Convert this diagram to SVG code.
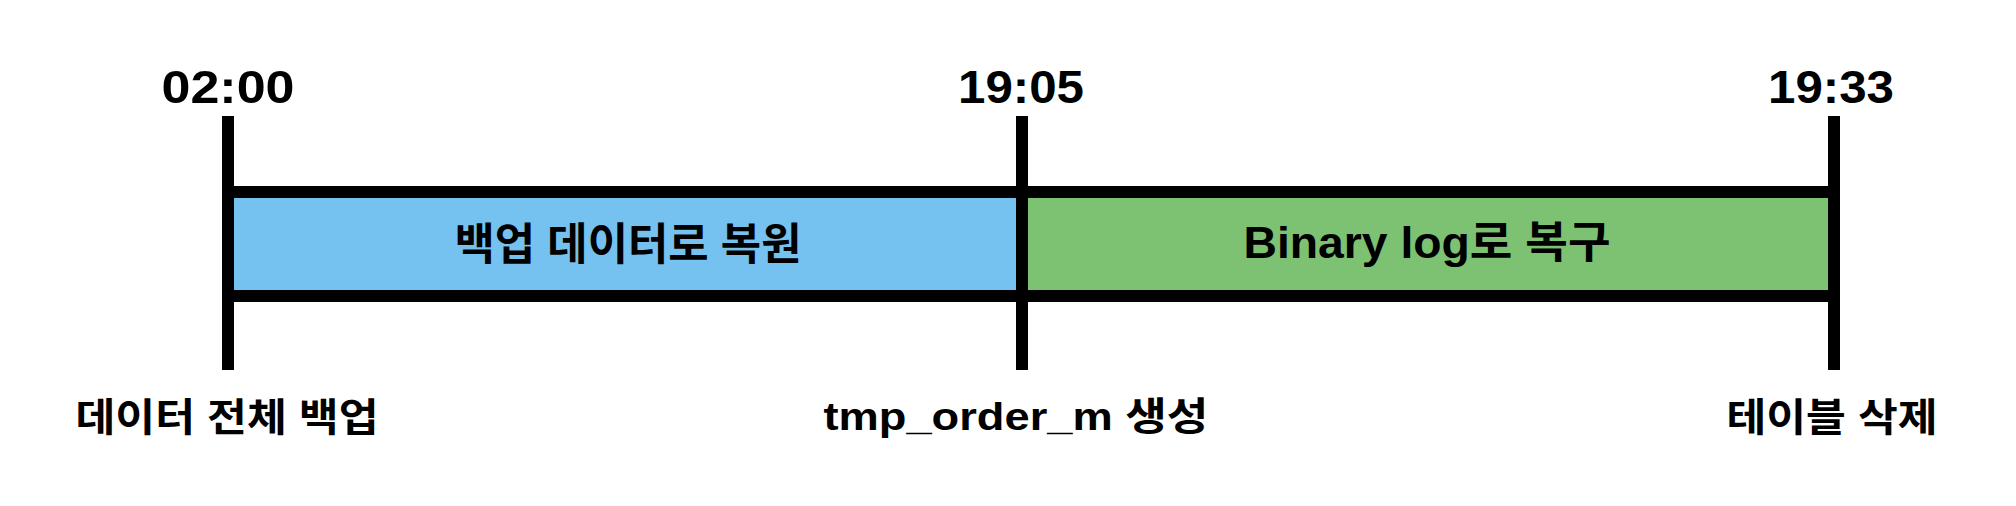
<svg xmlns="http://www.w3.org/2000/svg" width="2016" height="506" viewBox="0 0 2016 506">
  <style>
    .bar { stroke: #000; stroke-width: 12; }
    .tick { stroke: #000; stroke-width: 12; fill: none; }
    .time { font-family: "Liberation Sans", "Noto Sans CJK KR", sans-serif; font-weight: bold; font-size: 46px; fill: #000; text-anchor: middle; }
    .event { font-family: "Liberation Sans", "Noto Sans CJK KR", sans-serif; font-weight: bold; font-size: 39px; fill: #000; text-anchor: middle; }
    .phase { font-family: "Liberation Sans", "Noto Sans CJK KR", sans-serif; font-weight: bold; font-size: 44px; fill: #000; text-anchor: middle; }
  </style>
  <rect width="2016" height="506" fill="#fff"/>

  <g id="phase-restore-backup">
    <rect class="bar" x="228" y="192" width="794" height="104" fill="#75C2F0"/>
    <text class="phase" x="628" y="260" textLength="347" lengthAdjust="spacingAndGlyphs">백업 데이터로 복원</text>
  </g>

  <g id="phase-binlog-recovery">
    <rect class="bar" x="1022" y="192" width="812" height="104" fill="#7DC273"/>
    <text class="phase" x="1427" y="258" textLength="367" lengthAdjust="spacingAndGlyphs">Binary log로 복구</text>
  </g>

  <g id="connectors">
    <line class="tick" x1="228" y1="116" x2="228" y2="370"/>
    <line class="tick" x1="1022" y1="116" x2="1022" y2="370"/>
    <line class="tick" x1="1834" y1="116" x2="1834" y2="370"/>
  </g>

  <g id="event-0200">
    <text class="time" x="228" y="103" textLength="133" lengthAdjust="spacingAndGlyphs">02:00</text>
    <text class="event" x="227" y="431" textLength="303" lengthAdjust="spacingAndGlyphs">데이터 전체 백업</text>
  </g>

  <g id="event-1905">
    <text class="time" x="1021" y="103" textLength="126" lengthAdjust="spacingAndGlyphs">19:05</text>
    <text class="event" x="1016" y="430" textLength="385" lengthAdjust="spacingAndGlyphs">tmp_order_m 생성</text>
  </g>

  <g id="event-1933">
    <text class="time" x="1831" y="103" textLength="126" lengthAdjust="spacingAndGlyphs">19:33</text>
    <text class="event" x="1832" y="431" textLength="211" lengthAdjust="spacingAndGlyphs">테이블 삭제</text>
  </g>
</svg>
